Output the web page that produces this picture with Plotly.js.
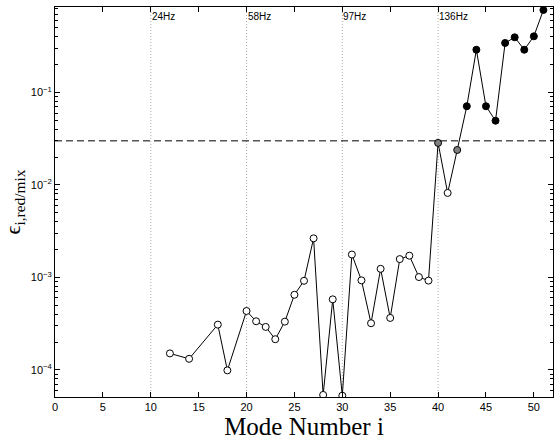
<!DOCTYPE html>
<html>
<head>
<meta charset="utf-8">
<script src="https://cdn.plot.ly/plotly-3.0.1.min.js"></script>
<style>html,body{margin:0;padding:0;background:#fff}#chart{width:555px;height:440px}</style>
</head>
<body>
<div id="chart"></div>
<script>
// Mode numbers and reduction errors
const modes = [12,14,17,18,20,21,22,23,24,25,26,27,28,29,30,31,32,33,34,35,36,37,38,39,40,41,42,43,44,45,46,47,48,49,50,51];
const errors = [1.51e-4,1.32e-4,3.09e-4,9.9e-5,4.34e-4,3.36e-4,2.92e-4,2.15e-4,3.33e-4,6.5e-4,9.2e-4,2.65e-3,5.37e-5,5.8e-4,5.27e-5,
  1.77e-3,9.3e-4,3.2e-4,1.24e-3,3.65e-4,1.58e-3,1.72e-3,1.01e-3,9.25e-4,2.85e-2,8.2e-3,2.39e-2,7.1e-2,0.29,7.1e-2,4.95e-2,0.343,0.395,0.29,0.405,0.78];
// marker class: 0 = white, 1 = grey, 2 = black
const markerClass = [0,0,0,0,0,0,0,0,0,0,0,0,0,0,0,0,0,0,0,0,0,0,0,0,1,0,1,2,2,2,2,2,2,2,2,2];
const classColors = ['#ffffff','#808080','#000000'];
// frequency markers
const freqModes = [10,20,30,40];
const freqLabels = ['24Hz','58Hz','97Hz','136Hz'];
const threshold = 0.03;
// y tick decades
const yExponents = [-4, -3, -2, -1];

const yTickVals = yExponents.map(e => Math.pow(10, e));
const yTickText = yExponents.map(e => '10<sup>\u2212' + Math.abs(e) + '</sup>');
// minor tick positions for the log axis (2..9 within each decade)
const minorVals = [];
for (let e = -5; e <= 0; e++) for (let d = 2; d <= 9; d++) minorVals.push(d * Math.pow(10, e));

const trace = {
  x: modes, y: errors, type: 'scatter', mode: 'lines+markers',
  line: {color: '#000', width: 1},
  marker: {size: 7, color: markerClass.map(c => classColors[c]), line: {color: '#000', width: 1}},
  hoverinfo: 'x+y', showlegend: false
};

const shapes = freqModes.map(m => ({
  type: 'line', xref: 'x', yref: 'paper', x0: m, x1: m, y0: 0, y1: 1,
  line: {color: '#aaa', width: 1, dash: '1px,2px'}, layer: 'below'
}));
shapes.push({type: 'line', xref: 'paper', yref: 'y', x0: 0, x1: 1,
  y0: threshold, y1: threshold, line: {color: '#000', width: 1, dash: '7px,4px'}});

const annotations = freqModes.map((m, k) => ({
  x: m, xref: 'x', y: 0.975, yref: 'paper', text: freqLabels[k], showarrow: false,
  xanchor: 'left', yanchor: 'middle', xshift: -1,
  font: {family: 'Liberation Sans, Arial, sans-serif', size: 10, color: '#000'}
}));

const layout = {
  width: 555, height: 440,
  margin: {l: 55, r: 2, t: 7, b: 43},
  paper_bgcolor: '#fff', plot_bgcolor: '#fff',
  font: {family: 'Liberation Sans, Arial, sans-serif', size: 11, color: '#000'},
  xaxis: {
    range: [0, 52], dtick: 5, tick0: 0, ticks: 'inside', ticklen: 5, tickcolor: '#000',
    showline: true, linecolor: '#000', linewidth: 1, mirror: 'ticks', showgrid: false, zeroline: false,
    title: {text: 'Mode Number i', font: {family: 'Liberation Serif, Times New Roman, serif', size: 25}, standoff: 0}
  },
  yaxis: {
    type: 'log', range: [Math.log10(5.1e-5), Math.log10(0.84)],
    tickmode: 'array', tickvals: yTickVals, ticktext: yTickText,
    ticks: 'inside', ticklen: 5, tickcolor: '#000',
    showline: true, linecolor: '#000', linewidth: 1, mirror: 'ticks', showgrid: false, zeroline: false,
    minor: {tickmode: 'array', tickvals: minorVals, ticks: 'inside', ticklen: 3, tickcolor: '#000', showgrid: false},
    title: {text: 'ϵ<sub>i,red/mix</sub>', font: {family: 'Liberation Serif, Times New Roman, serif', size: 22}, standoff: 8}
  },
  shapes: shapes,
  annotations: annotations
};

Plotly.newPlot('chart', [trace], layout, {displayModeBar: false, staticPlot: true});
</script>
</body>
</html>
